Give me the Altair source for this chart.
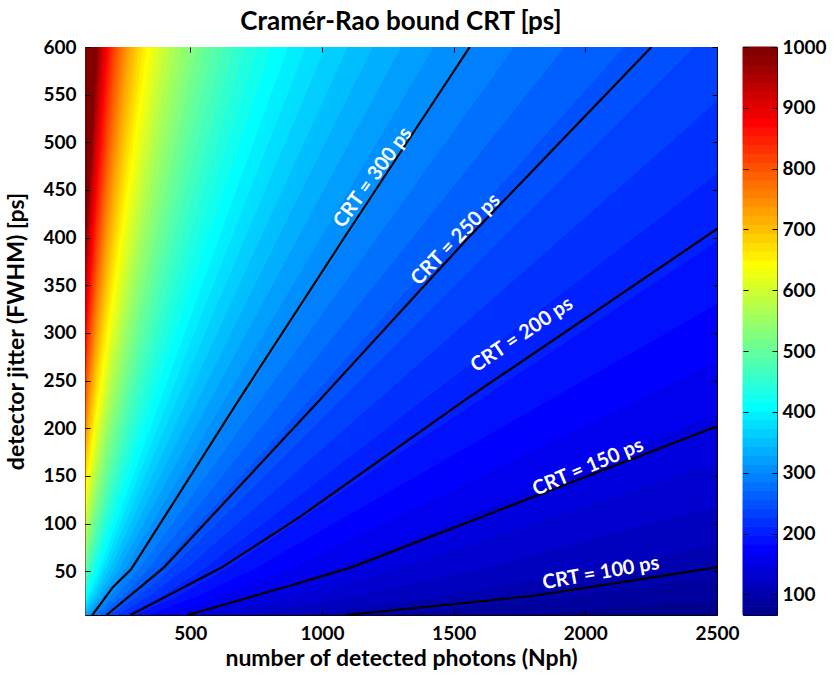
import altair as alt
import numpy as np
import pandas as pd

# ---------------------------------------------------------------------------
# Data
# ---------------------------------------------------------------------------
# Colour-step boundaries of the CRT map (64-step jet map on 66..1000 ps).
# For each of the 63 steps: Nph at which the step sits on the jitter rows
# 4, 24, 54 and 600 ps.  Steps that leave through the left or right side of
# the frame continue beyond the axis and are clipped there.
jit_rows = [4, 24, 54, 600]
edge_n_j4 = [1709, 1225, 921, 718, 575, 471, 393, 332, 285, 247, 216, 191, 170,
             152, 137, 124, 113, 103, 94, 87, 80, 74, 69, 64, 60, 56, 52, 49,
             46, 44, 41, 39, 37, 35, 33, 32, 30, 29, 28, 26, 25, 24, 23, 22,
             21, 20, 20, 19, 18, 18, 17, 16, 16, 15, 15, 14, 14, 13, 13, 13,
             12, 12, 11]
edge_n_j24 = [2694, 1931, 1452, 1131, 906, 742, 619, 524, 449, 390, 341, 301,
              268, 240, 216, 195, 177, 162, 149, 137, 126, 117, 109, 101, 94,
              88, 83, 78, 73, 69, 65, 62, 58, 55, 53, 50, 48, 45, 43, 41, 40,
              38, 36, 35, 34, 32, 31, 30, 29, 28, 27, 26, 25, 24, 23, 22, 22,
              21, 20, 20, 19, 19, 18]
edge_n_j54 = [3849, 2759, 2074, 1616, 1295, 1060, 884, 749, 642, 557, 487, 430,
              382, 342, 308, 279, 253, 231, 212, 195, 180, 167, 155, 144, 135,
              126, 118, 111, 105, 99, 93, 88, 83, 79, 75, 71, 68, 65, 62, 59,
              57, 54, 52, 50, 48, 46, 44, 43, 41, 40, 38, 37, 36, 34, 33, 32,
              31, 30, 29, 28, 27, 27, 26]
edge_n_j600 = [21586, 15473, 11633, 9062, 7259, 5945, 4958, 4198, 3600, 3121,
               2732, 2411, 2144, 1919, 1727, 1563, 1421, 1298, 1190, 1095,
               1011, 936, 869, 809, 755, 707, 663, 622, 586, 552, 522, 494,
               468, 444, 421, 401, 382, 364, 348, 332, 318, 304, 292, 280, 268,
               258, 248, 239, 230, 221, 214, 206, 199, 192, 186, 180, 174, 168,
               163, 158, 153, 149, 144]

# Iso-CRT contour lines (black), Nph / jitter pairs along each line
crt300_n = [128, 205, 275, 685, 1080, 1561]
crt300_j = [4, 33, 52, 230, 398, 600]
crt250_n = [182, 400, 993, 1549, 2251]
crt250_j = [4, 54, 230, 398, 600]
crt200_n = [273, 620, 916, 1545, 2500]
crt200_j = [4, 54, 107, 230, 409]
crt150_n = [490, 880, 1111, 1804, 2500]
crt150_j = [4, 35, 54, 128, 202]
crt100_n = [1090, 1802, 2500]
crt100_j = [4, 24, 54]

# Contour line labels, anchored in data coordinates
label_text = ["CRT = 300 ps", "CRT = 250 ps", "CRT = 200 ps",
              "CRT = 150 ps", "CRT = 100 ps"]
label_n = [1193, 1508, 1759, 2010, 2059]
label_j = [463, 398, 298, 159, 48]
label_angle = [306, 314, 326, 337, 350]

x_ticks = [500, 1000, 1500, 2000, 2500]
y_ticks = list(range(50, 601, 50))
cbar_ticks = list(range(100, 1001, 100))

# ---------------------------------------------------------------------------
# Styling helpers
# ---------------------------------------------------------------------------
NPH_MIN, NPH_MAX = 100, 2500
JIT_MIN, JIT_MAX = 4, 600
CB_MIN, CB_MAX = 66, 1000
N_COLORS = 64
FONT = "Lato"


def matlab_jet(m=64):
    n = int(np.ceil(m / 4))
    u = np.concatenate([np.arange(1, n + 1) / n, np.ones(n - 1),
                        np.arange(n, 0, -1) / n])
    g = int(np.ceil(n / 2)) - (1 if m % 4 == 1 else 0) + np.arange(1, len(u) + 1)
    r = g + n
    b = g - n
    cmap = np.zeros((m, 3))
    for ch, idx in enumerate((r, g, b)):
        ok = (idx >= 1) & (idx <= m)
        cmap[idx[ok] - 1, ch] = u[ok]
    return ["#%02x%02x%02x" % tuple(int(round(v * 255)) for v in row)
            for row in cmap]


JET = matlab_jet(N_COLORS)
band_scale = alt.Scale(domain=list(range(N_COLORS)), range=JET)
x_scale = alt.Scale(domain=[NPH_MIN, NPH_MAX], nice=False, zero=False)
y_scale = alt.Scale(domain=[JIT_MIN, JIT_MAX], nice=False, zero=False)

axis_style = dict(domain=False, grid=False, tickSize=5, tickColor="black",
                  tickWidth=1, offset=-5, zindex=1, format="d",
                  labelFont=FONT, labelFontSize=19, labelFontWeight="bold",
                  labelColor="black", titleFont=FONT, titleFontSize=23,
                  titleFontWeight="bold", titleColor="black")

# ---------------------------------------------------------------------------
# Filled colour bands: band b lies between step b+1 (left) and step b (right)
# ---------------------------------------------------------------------------
edges = [edge_n_j4, edge_n_j24, edge_n_j54, edge_n_j600]
band_rows = []
for b in range(N_COLORS):
    for r, j in enumerate(jit_rows):
        left = edges[r][b] if b < N_COLORS - 1 else NPH_MIN
        right = edges[r][b - 1] if b > 0 else NPH_MAX
        band_rows.append({"band": b, "jit": j, "left": left, "right": right})
bands_df = pd.DataFrame(band_rows)

bands = alt.Chart(bands_df).mark_area(
    orient="horizontal", clip=True, strokeWidth=1
).encode(
    y=alt.Y("jit:Q", scale=y_scale,
            axis=alt.Axis(values=y_ticks, labelPadding=9, titlePadding=14,
                          title="detector jitter (FWHM) [ps]", **axis_style)),
    x=alt.X("left:Q", scale=x_scale, stack=None,
            axis=alt.Axis(values=x_ticks, labelPadding=9, titlePadding=4,
                          labelFlush=False,
                          title="number of detected photons (Nph)",
                          **axis_style)),
    x2="right:Q",
    color=alt.Color("band:O", scale=band_scale, legend=None),
    stroke=alt.Stroke("band:O", scale=band_scale, legend=None),
    detail="band:N",
)

# ---------------------------------------------------------------------------
# Black iso-CRT lines (these also carry the top / right tick marks)
# ---------------------------------------------------------------------------
line_rows = []
for lvl, ns, js in [(300, crt300_n, crt300_j), (250, crt250_n, crt250_j),
                    (200, crt200_n, crt200_j), (150, crt150_n, crt150_j),
                    (100, crt100_n, crt100_j)]:
    for i, (n, j) in enumerate(zip(ns, js)):
        line_rows.append({"level": lvl, "n": n, "j": j, "idx": i})
lines_df = pd.DataFrame(line_rows)

top_right = dict(axis_style)
top_right.update(labels=False, title=None)
lines = alt.Chart(lines_df).mark_line(
    color="black", strokeWidth=2.2, clip=True
).encode(
    x=alt.X("n:Q", scale=x_scale,
            axis=alt.Axis(orient="top", values=x_ticks, **top_right)),
    y=alt.Y("j:Q", scale=y_scale,
            axis=alt.Axis(orient="right", values=y_ticks, **top_right)),
    detail="level:N",
    order="idx:Q",
)

labels_df = pd.DataFrame({"text": label_text, "n": label_n, "j": label_j,
                          "ang": label_angle})
labels = alt.Chart(labels_df).mark_text(
    font=FONT, fontSize=20, fontWeight="bold", color="white"
).encode(
    x=alt.X("n:Q", scale=x_scale, axis=None),
    y=alt.Y("j:Q", scale=y_scale, axis=None),
    text="text:N",
    angle=alt.Angle("ang:Q", scale=None),
)

title_style = dict(font=FONT, fontSize=26, fontWeight="bold", color="black",
                   anchor="middle", offset=3)

main = alt.layer(bands, lines, labels).resolve_axis(
    x="independent", y="independent"
).properties(
    width=632, height=568,
    title=alt.TitleParams("Cramér-Rao bound CRT [ps]", **title_style),
)

# ---------------------------------------------------------------------------
# Colour bar: one cell per colour step, spanning the bar's full width
# ---------------------------------------------------------------------------
step = (CB_MAX - CB_MIN) / N_COLORS
cbar_df = pd.DataFrame({"band": list(range(N_COLORS)),
                        "lo": [CB_MIN + k * step for k in range(N_COLORS)],
                        "hi": [CB_MIN + (k + 1) * step for k in range(N_COLORS)],
                        "c0": 0.0, "c1": 1.0})
cb_scale = alt.Scale(domain=[CB_MIN, CB_MAX], nice=False, zero=False)
cb_x = alt.X("c0:Q", scale=alt.Scale(domain=[0, 1], nice=False, zero=False),
             axis=None)

cbar_right = alt.Chart(cbar_df).mark_rect().encode(
    x=cb_x, x2="c1:Q",
    y=alt.Y("lo:Q", scale=cb_scale,
            axis=alt.Axis(orient="right", values=cbar_ticks, title=None,
                          labelPadding=5, **axis_style)),
    y2="hi:Q",
    color=alt.Color("band:O", scale=band_scale, legend=None),
    stroke=alt.Stroke("band:O", scale=band_scale, legend=None),
)
cb_left_style = dict(axis_style)
cb_left_style.update(labels=False, title=None)
cbar_left = alt.Chart(cbar_df).mark_rect(opacity=0).encode(
    x=cb_x, x2="c1:Q",
    y=alt.Y("lo:Q", scale=cb_scale,
            axis=alt.Axis(orient="left", values=cbar_ticks, **cb_left_style)),
    y2="hi:Q",
)
cbar = alt.layer(cbar_right, cbar_left).resolve_axis(y="independent").properties(
    width=34, height=568,
    title=alt.TitleParams(" ", **title_style),
)

chart = alt.hconcat(main, cbar, spacing=2).configure_view(
    stroke="black", strokeWidth=1
).properties(
    background="white",
    padding={"left": 5, "top": 8, "right": 2, "bottom": 2},
)

chart.save("out.html", embed_options={"renderer": "svg", "actions": False})
